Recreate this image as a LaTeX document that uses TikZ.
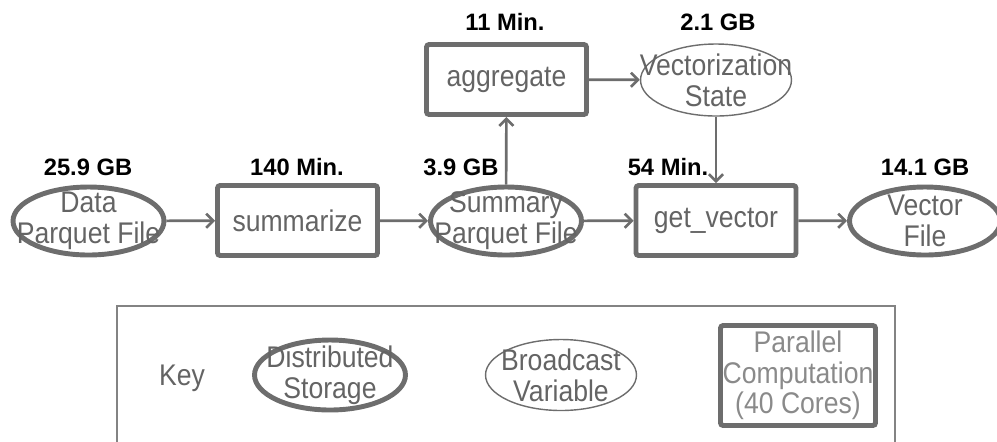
\documentclass[tikz,border=0pt]{standalone}
\usepackage{fontspec}
\setmainfont{Liberation Sans}
\newfontfamily\narrowsans[FakeStretch=0.89]{Liberation Sans}
\usetikzlibrary{arrows.meta,shapes.geometric}
\definecolor{linegray}{HTML}{6D6D6D}
\definecolor{textgray}{HTML}{646464}
\definecolor{keygray}{HTML}{8A8A8A}
\begin{document}
\begin{tikzpicture}[x=0.02cm, y=-0.02cm,
        store/.style={ellipse, draw=linegray, line width=2.8pt, minimum width=3.02cm, minimum height=1.36cm, inner sep=0pt},
        bcast/.style={ellipse, draw=linegray, line width=0.8pt, minimum width=3.02cm, minimum height=1.44cm, inner sep=0pt},
        task/.style={rectangle, rounded corners=1.5pt, draw=linegray, line width=2.8pt, minimum width=3.2cm, minimum height=1.4cm, text=textgray, font=\narrowsans\fontsize{17}{17.5}\selectfont},
        txt/.style={text=textgray, font=\narrowsans\fontsize{17}{17.5}\selectfont, align=center, inner sep=0pt},
        size/.style={font=\fontsize{13.5}{14}\selectfont\bfseries, inner sep=0pt},
        flow/.style={draw=linegray, line width=1.5pt, -{Straight Barb[length=4pt,width=8pt]}}]
    \useasboundingbox (0,0) rectangle (997,441);
    % pipeline
    \node [store] (data) at (88.5,221) {};
    \node [txt] (datat) at (data) {Data\\Parquet File};
    \node [task] (summ) at (297.5,220.5) {summarize};
    \node [store] (spq) at (506,221) {};
    \node [txt] (spqt) at (spq) {Summary\\Parquet File};
    \node [task] (agg) at (506.5,79.5) {aggregate};
    \node [bcast] (vst) at (716,80) {};
    \node [txt] (vstt) at (vst) {Vectorization\\State};
    \node [task] (getv) at (716,220.5) {get\_vector};
    \node [store] (vecf) at (925,221) {};
    \node [txt] (vecft) at (vecf) {Vector\\File};
    % sizes and times
    \node [size] (s1) at (88,167) {25.9 GB};
    \node [size] (s2) at (297,167) {140 Min.};
    \node [size] (s3) at (461,167) {3.9 GB};
    \node [size] (s4) at (668,167) {54 Min.};
    \node [size] (s5) at (925,167) {14.1 GB};
    \node [size] (s6) at (505,22) {11 Min.};
    \node [size] (s7) at (718,22) {2.1 GB};
    \draw [flow] (data) -- (summ);
    \draw [flow] (summ) -- (spq);
    \draw [flow] (spq) -- (getv);
    \draw [flow] (getv) -- (vecf);
    \draw [flow] (spq) -- (agg);
    \draw [flow] (agg) -- (vst);
    \draw [flow] (vst) -- (getv);
    % key
    \draw [draw=linegray!85, line width=1.1pt] (117,446) |- (895,306) -- (895,446);
    \node [txt] (key) at (182,378) {Key};
    \node [store, minimum height=1.4cm] (kds) at (330,375) {};
    \node [txt] (kdst) at (kds) {Distributed\\Storage};
    \node [bcast, minimum height=1.42cm] (kbv) at (561,375) {};
    \node [txt] (kbvt) at (kbv) {Broadcast\\Variable};
    \node [task, minimum width=3.1cm, minimum height=2cm] (kpc) at (798,375.5) {};
    \node [txt, text=keygray] (kpct) at (kpc) {Parallel\\Computation\\(40 Cores)};
\end{tikzpicture}
\end{document}
